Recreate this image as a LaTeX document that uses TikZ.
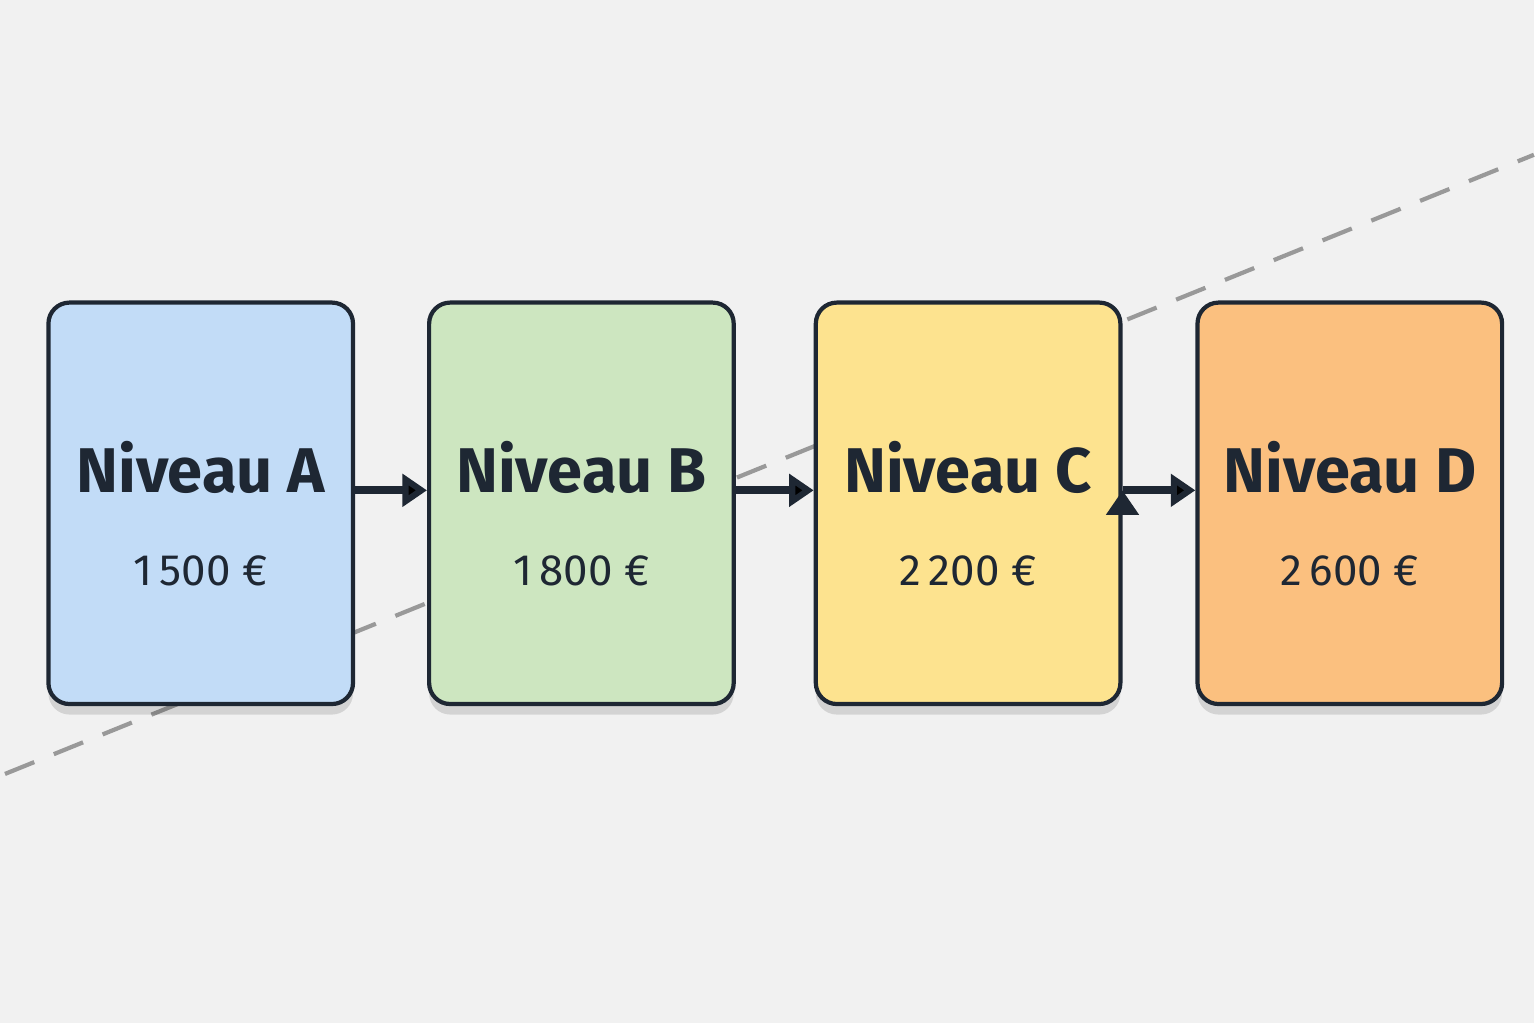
\documentclass[tikz,border=0pt]{standalone}
\usepackage{fontspec}
\setmainfont{Fira Sans}
\usetikzlibrary{arrows.meta,positioning,shadows}
\definecolor{bgc}{HTML}{F1F1F1}
\definecolor{ink}{HTML}{1E2733}
\definecolor{colA}{HTML}{C2DCF7}
\definecolor{colB}{HTML}{CDE6C0}
\definecolor{colC}{HTML}{FDE38F}
\definecolor{colD}{HTML}{FBC07F}
\tikzset{
  level/.style={draw=ink,line width=1.2pt,rounded corners=6pt,minimum width=3.05cm,minimum height=4.02cm,
    drop shadow={shadow xshift=0pt,shadow yshift=-3pt,fill=black,opacity=0.12}},
  levelarrow/.style={-{Triangle[length=7pt,width=9pt]},line width=2.2pt,draw=ink}
}
\begin{document}
\begin{tikzpicture}[node distance=0.74cm]
        \fill[bgc] (0,0) rectangle (15.36,10.24);
        \coordinate (dashL) at (0.05,2.49);
        \coordinate (dashR) at (15.36,8.69);
        \draw[gray!80,line width=1.2pt,dash pattern=on 9pt off 6pt] (dashL) -- (dashR);
        \node[level,fill=colA] (NA) at (2.01,5.20) {};
        \node[level,fill=colB,right=0.72cm of NA] (NB) {};
        \node[level,fill=colC,right=0.78cm of NB] (NC) {};
        \node[level,fill=colD,right=0.73cm of NC] (ND) {};
        % labels
        \foreach \n/\t/\p in {NA/A/1\,500,NB/B/1\,800,NC/C/2\,200,ND/D/2\,600}{
            \node[text=ink,font=\fontsize{18pt}{20pt}\selectfont\bfseries] at ([yshift=0.36cm]\n.center) {Niveau \t};
            \node[text=ink,font=\fontsize{12.5pt}{14pt}\selectfont] at ([yshift=-0.68cm]\n.center) {\p~€};
        }
        \path[levelarrow]
        ([yshift=0.13cm]NA.east) edge ([yshift=0.13cm]NB.west)
        ([yshift=0.13cm]NB.east) edge ([yshift=0.13cm]NC.west)
        ([yshift=0.13cm]NC.east) edge ([yshift=0.13cm]ND.west)
        ;
\end{tikzpicture}
\end{document}
